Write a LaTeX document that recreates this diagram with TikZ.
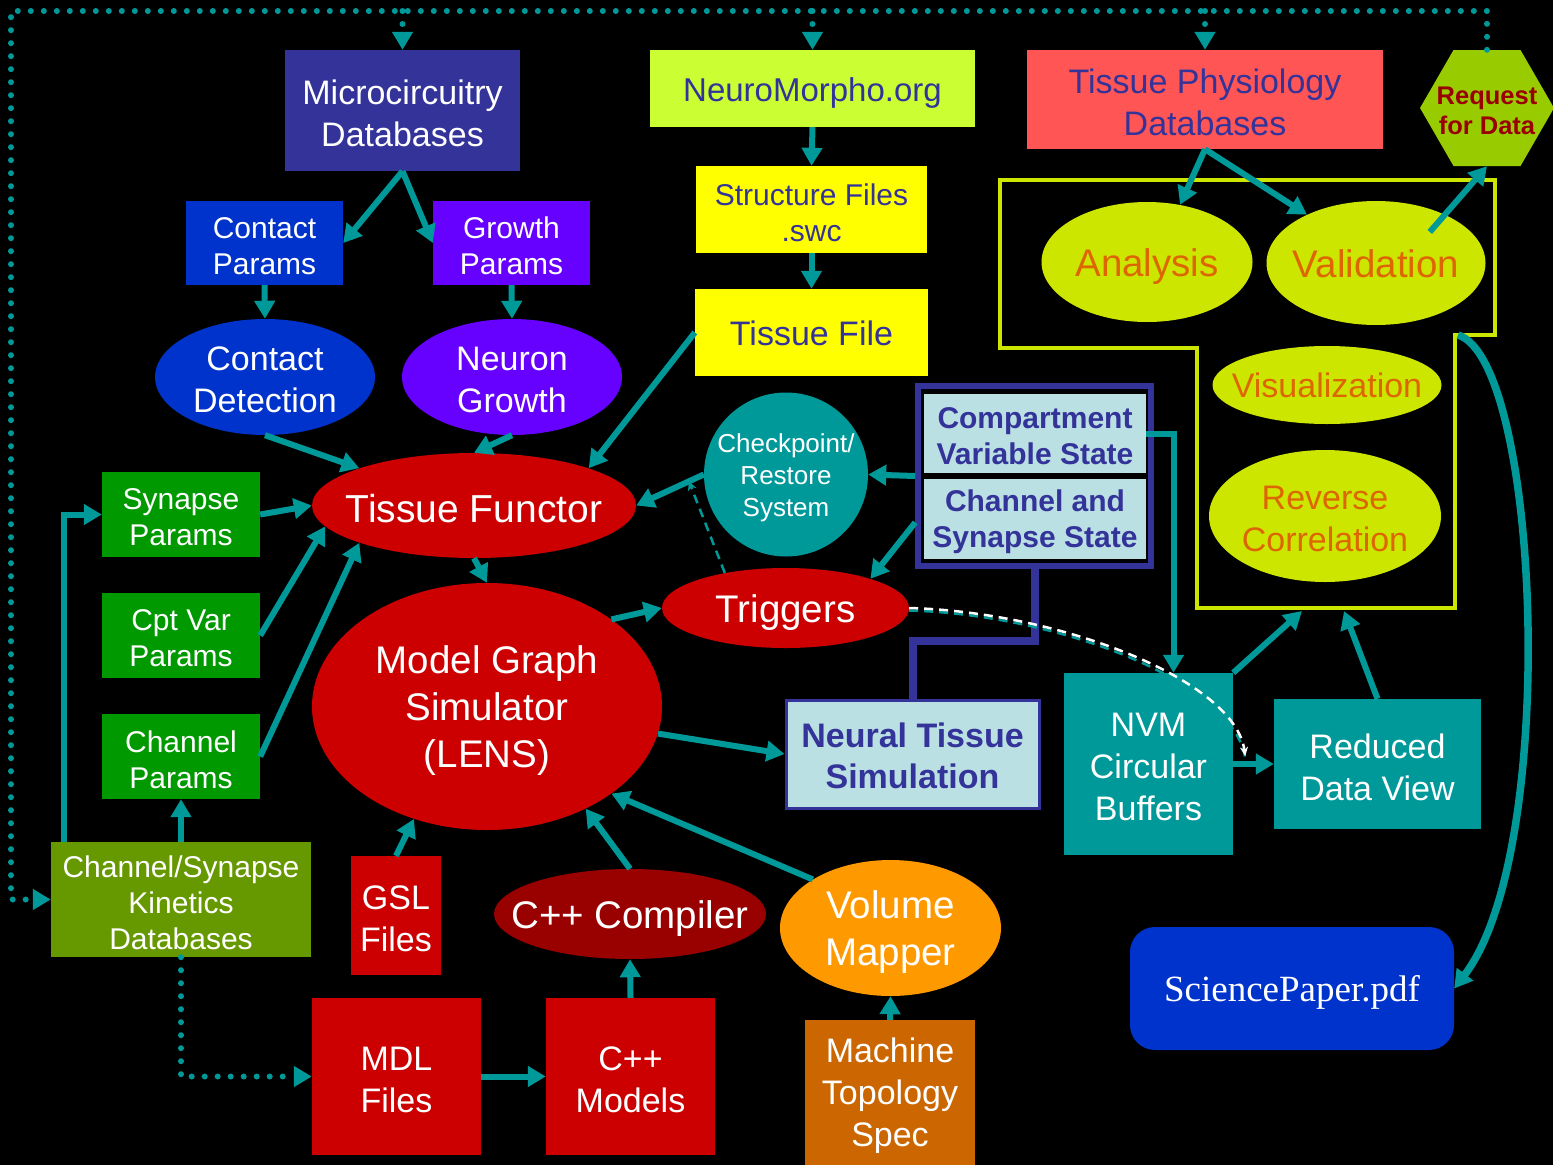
\documentclass[tikz,border=0pt]{standalone}
\usepackage{fontspec}
\setmainfont{Liberation Sans}
\newfontfamily\serifpdf{Liberation Serif}
\usetikzlibrary{shapes.geometric,arrows.meta,calc}

\definecolor{cteal}{HTML}{009999}
\definecolor{cslate}{HTML}{333399}
\definecolor{clime}{HTML}{CCFF33}
\definecolor{csalmon}{HTML}{FF5555}
\definecolor{chex}{HTML}{99CC00}
\definecolor{cblue}{HTML}{0033CC}
\definecolor{cviolet}{HTML}{6600FF}
\definecolor{cyell}{HTML}{FFFF00}
\definecolor{cygreen}{HTML}{CCE600}
\definecolor{corangetxt}{HTML}{DD6600}
\definecolor{cred}{HTML}{CC0000}
\definecolor{cgreen}{HTML}{009900}
\definecolor{cpale}{HTML}{BBE0E3}
\definecolor{colive}{HTML}{669900}
\definecolor{cdred}{HTML}{990000}
\definecolor{corange}{HTML}{FF9900}
\definecolor{cbrown}{HTML}{CC6600}

\newcommand\fsz[2]{\fontsize{#1}{#2}\selectfont}

\begin{document}
\begin{tikzpicture}[x=1pt,y=-1pt,
  box/.style={rectangle, inner sep=0pt},
  ell/.style={ellipse, inner sep=0pt},
  lbl/.style={align=center, inner sep=0pt},
  % text styles; the small downward shift centres the lettering optically
  t26/.style={lbl, font=\fsz{26}{32}, yshift=-3.5pt},
  t30/.style={lbl, font=\fsz{30}{36}, yshift=-3pt},
  tb30/.style={lbl, font=\bfseries\fsz{30}{36}, yshift=-2.5pt},
  t33/.style={lbl, font=\fsz{33}{40}, yshift=-4pt},
  t34/.style={lbl, font=\fsz{34}{42}, yshift=-3pt},
  tb34/.style={lbl, font=\bfseries\fsz{34}{41}, yshift=-2pt},
  t38/.style={lbl, font=\fsz{38.5}{47}, yshift=-4.5pt},
  arr/.style={draw=cteal, line width=6pt, -{Triangle[length=18pt,width=20pt]}},
  dotarr/.style={draw=cteal, line width=6pt, line cap=round,
    dash pattern=on 0pt off 13pt, -{Triangle[length=18pt,width=20pt]}},
  thindash/.style={line width=2.5pt, dash pattern=on 9pt off 6pt}]

\useasboundingbox (0,0) rectangle (1553,1165);
\fill[black] (0,0) rectangle (1553,1165);

% analysis region outline
\draw[cygreen, line width=4pt] (1000,180) -- (1495,180) -- (1495,335) -- (1455,335)
  -- (1455,608) -- (1197,608) -- (1197,348) -- (1000,348) -- cycle;

% top row
\node[box, fill=cslate, minimum width=235pt, minimum height=121pt] (mdb) at (402.5,110.5) {};
\node[t34, text=white] at (mdb) {Microcircuitry\\Databases};
\node[box, fill=clime, minimum width=325pt, minimum height=77pt] (nmo) at (812.5,88.5) {};
\node[t33, text=cslate] at (nmo) {NeuroMorpho.org};
\node[box, fill=csalmon, minimum width=356pt, minimum height=99pt] (tpd) at (1205,99.5) {};
\node[t34, text=cslate] at (tpd) {Tissue Physiology\\Databases};
\fill[chex] (1420,108) -- (1453.5,50) -- (1520.5,50) -- (1554,108) -- (1520.5,166) -- (1453.5,166) -- cycle;
\node[box, minimum width=20pt, minimum height=116pt] (req) at (1487,108) {};
\node[lbl, text=cdred, font=\bfseries\fsz{25.5}{30}, yshift=-2.5pt] at (req) {Request\\for Data};

% second row
\node[box, fill=cblue, minimum width=157pt, minimum height=84pt] (cpar) at (264.5,243) {};
\node[t30, text=white] at (cpar) {Contact\\Params};
\node[box, fill=cviolet, minimum width=157pt, minimum height=84pt] (gpar) at (511.5,243) {};
\node[t30, text=white] at (gpar) {Growth\\Params};
\node[box, fill=cyell, minimum width=231pt, minimum height=87pt] (sfl) at (811.5,209.5) {};
\node[t30, text=cslate] at (sfl) {Structure Files\\.swc};
\node[box, fill=cyell, minimum width=233pt, minimum height=87pt] (tfl) at (811.5,332.5) {};
\node[t34, text=cslate, yshift=2pt] at (tfl) {Tissue File};

% analysis ellipses
\node[ell, fill=cygreen, minimum width=211pt, minimum height=120pt] (ana) at (1147,262) {};
\node[t38, text=corangetxt] at (ana) {Analysis};
\node[ell, fill=cygreen, minimum width=219pt, minimum height=124pt] (val) at (1376,263) {};
\node[t38, text=corangetxt, yshift=3.5pt] at (val) {Validation};
\node[ell, fill=cygreen, minimum width=229pt, minimum height=78pt] (vis) at (1327,385) {};
\node[t34, text=corangetxt, yshift=3pt] at (vis) {Visualization};
\node[ell, fill=cygreen, minimum width=232pt, minimum height=132pt] (rco) at (1325,516) {};
\node[t34, text=corangetxt] at (rco) {Reverse\\Correlation};

% detection / growth
\node[ell, fill=cblue, minimum width=220pt, minimum height=116pt] (cdet) at (265,377) {};
\node[t34, text=white] at (cdet) {Contact\\Detection};
\node[ell, fill=cviolet, minimum width=220pt, minimum height=116pt] (ngr) at (512,377) {};
\node[t34, text=white] at (ngr) {Neuron\\Growth};

% tissue functor
\node[ell, fill=cred, minimum width=324pt, minimum height=105pt] (tfu) at (474,505.5) {};
\node[lbl, text=white, font=\fsz{39}{47}, yshift=-3pt] at (tfu) {Tissue Functor};

% parameter boxes
\node[box, fill=cgreen, minimum width=158pt, minimum height=85pt] (spar) at (181,514.5) {};
\node[t30, text=white] at (spar) {Synapse\\Params};
\node[box, fill=cgreen, minimum width=158pt, minimum height=85pt] (cpt) at (181,635.5) {};
\node[t30, text=white] at (cpt) {Cpt Var\\Params};
\node[box, fill=cgreen, minimum width=158pt, minimum height=85pt] (chpar) at (181,756.5) {};
\node[t30, text=white] at (chpar) {Channel\\Params};

% checkpoint and state
\node[circle, fill=cteal, minimum size=164pt, inner sep=0pt] (cpr) at (786,474.5) {};
\node[t26, text=white] at (cpr) {Checkpoint/\\Restore\\System};
\node[draw=cslate, line width=5.5pt, fill=black, minimum width=233pt, minimum height=180pt, inner sep=0pt] (statebox) at (1034.5,476) {};
\node[box, fill=cpale, minimum width=222pt, minimum height=79pt] (cvs) at (1035,433.5) {};
\node[tb30, text=cslate] at (cvs) {Compartment\\Variable State};
\node[box, fill=cpale, minimum width=222pt, minimum height=80pt] (css) at (1035,519) {};
\node[tb30, text=cslate] at (css) {Channel and\\Synapse State};

% simulator
\node[ell, fill=cred, minimum width=247pt, minimum height=80pt] (trg) at (785.5,608) {};
\node[t38, text=white] at (trg) {Triggers};
\node[ell, fill=cred, minimum width=350pt, minimum height=247pt] (mgs) at (487,706.5) {};
\node[t38, text=white] at (mgs) {Model Graph\\Simulator\\(LENS)};
\node[box, fill=cpale, draw=cslate, line width=3pt, minimum width=253pt, minimum height=108pt] (nts) at (912.5,754) {};
\node[tb34, text=cslate] at (nts) {Neural Tissue\\Simulation};
\node[box, fill=cteal, minimum width=169pt, minimum height=182pt] (nvm) at (1148.5,764) {};
\node[t34, text=white] at (nvm) {NVM\\Circular\\Buffers};
\node[box, fill=cteal, minimum width=207pt, minimum height=130pt] (rdv) at (1377.5,764) {};
\node[t34, text=white] at (rdv) {Reduced\\Data View};
\node[box, fill=cblue, rounded corners=25pt, minimum width=324pt, minimum height=123pt] (sci) at (1292,988.5) {};
\node[lbl, text=white, font=\serifpdf\fsz{37}{44}, yshift=-4pt] at (sci) {SciencePaper.pdf};

% bottom sources
\node[box, fill=colive, minimum width=260pt, minimum height=115pt] (kin) at (181,899.5) {};
\node[t30, text=white] at (kin) {Channel/Synapse\\Kinetics\\Databases};
\node[box, fill=cred, minimum width=90pt, minimum height=119pt] (gsl) at (396,915.5) {};
\node[t34, text=white] at (gsl) {GSL\\Files};
\node[ell, fill=cdred, minimum width=272pt, minimum height=90pt] (ccc) at (630,914) {};
\node[t38, text=white] at (ccc) {C++ Compiler};
\node[ell, fill=corange, minimum width=221pt, minimum height=136pt] (vmp) at (890.5,928) {};
\node[t38, text=white] at (vmp) {Volume\\Mapper};
\node[box, fill=cred, minimum width=169pt, minimum height=157pt] (mdl) at (396.5,1076.5) {};
\node[t34, text=white] at (mdl) {MDL\\Files};
\node[box, fill=cred, minimum width=169pt, minimum height=157pt] (cpm) at (630.5,1076.5) {};
\node[t34, text=white] at (cpm) {C++\\Models};
\node[box, fill=cbrown, minimum width=170pt, minimum height=145pt] (mts) at (890,1092.5) {};
\node[t34, text=white] at (mts) {Machine\\Topology\\Spec};

% free connector ends
\coordinate (tl) at (11,11);
\coordinate (ob1) at (1302,611);
\coordinate (ob2) at (1344,611);
\coordinate (outr) at (1458,335);

% dotted data requests
\draw[dotarr] (req.north) |- (tl) |- (kin.west);
\draw[dotarr] (mdb.north |- tl) -- (mdb.north);
\draw[dotarr] (nmo.north |- tl) -- (nmo.north);
\draw[dotarr] (tpd.north |- tl) -- (tpd.north);
\draw[dotarr] (kin.south) |- (mdl.west);

% state wiring
\draw[cslate, line width=8pt] (statebox.south) -- ++(0,72) -| (nts.north);

% solid connectors
\draw[arr] (mdb.south) -- (cpar.east);
\draw[arr] (mdb.south) -- (gpar.west);
\draw[arr] (cpar.south) -- (cdet.north);
\draw[arr] (gpar.south) -- (ngr.north);
\draw[arr] (nmo.south) -- (sfl.north);
\draw[arr] (sfl.south) -- (tfl.north);
\draw[arr] (tpd.south) -- (ana.60);
\draw[arr] (tpd.south) -- (val.145);
\draw[arr] ($(val.center)!0.7!(val.30)$) -- (req.south);
\draw[arr] (cdet.south) -- (tfu.162);
\draw[arr] (ngr.south) -- (tfu.north);
\draw[arr] (tfl.west) -- (tfu.18);
\draw[arr] (spar.east) -- (tfu.west);
\draw[arr] (cpt.east) -- (tfu.188);
\draw[arr] (chpar.east) -- (tfu.198);
\draw[arr] (kin.north) -- (chpar.south);
\draw[arr] ($(kin.north west)+(13,0)$) |- (spar.west);
\draw[arr] (cpr.west) -- (tfu.east);
\draw[arr] (statebox.west) -- (cpr.east);
\draw[arr] ($(statebox.west)!0.5!(statebox.south west)$) -- (trg.19);
\draw[cteal, thindash, -{Stealth[length=9pt,width=9pt]}] (trg.150) -- ($(cpr.west)!0.22!(tfu.east)$);
\draw[arr] (tfu.south) -- (mgs.north);
\draw[arr] (mgs.35) -- (trg.west);
\draw[arr] (mgs.-9) -- (nts.west);
\draw[arr] (cvs.east) -| ($(nvm.north)+(25,0)$);
\draw[cteal, thindash, transform canvas={yshift=-2.5pt}] (trg.east) .. controls (1060,612) and (1235,680) .. ($(nvm.east)+(12,-8)$);
\draw[white, thindash, -{Stealth[length=9pt,width=8pt]}] (trg.east) .. controls (1060,612) and (1235,680) .. ($(nvm.east)+(12,-8)$);
\draw[arr] (nvm.east) -- (rdv.west);
\draw[arr] (nvm.north east) -- (ob1);
\draw[arr] (rdv.north) -- (ob2);
\draw[arr, line width=7.5pt] (outr) .. controls (1540,360) and (1560,850) .. (sci.east);
\draw[arr] (gsl.north) -- (mgs.237);
\draw[arr] (ccc.north) -- (mgs.-46);
\draw[arr] (vmp.148) -- (mgs.-35);
\draw[arr] (mdl.east) -- (cpm.west);
\draw[arr] (cpm.north) -- (ccc.south);
\draw[arr] (mts.north) -- (vmp.south);
\end{tikzpicture}
\end{document}
